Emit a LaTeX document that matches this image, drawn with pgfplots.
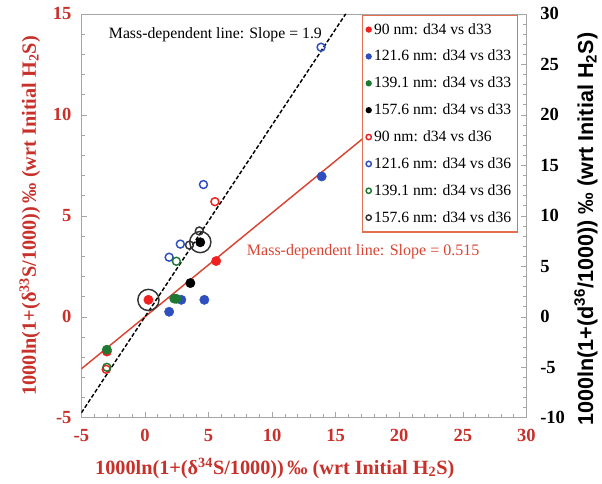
\documentclass[border=0pt]{standalone}
\usepackage{fontspec}
\setmainfont{Liberation Serif}
\newfontfamily\sansf{Liberation Sans}
\usepackage{pgfplots}
\pgfplotsset{compat=1.18}

\definecolor{labred}{HTML}{C8302A}
\definecolor{ptred}{HTML}{F02020}
\definecolor{ptblue}{HTML}{2F4FBF}
\definecolor{ptgreen}{HTML}{1E7A32}
\definecolor{linered}{HTML}{D94433}
\definecolor{legbord}{HTML}{E07050}

\pgfplotsset{
  twin/.style={
    scale only axis, width=336pt, height=305pt,
    xmin=-5, xmax=30,
    minor tick num=4,
    tick align=inside,
    axis line style={gray!70},
    major tick length=4pt, minor tick length=2.5pt,
    every tick/.style={gray!70},
    /pgf/number format/assume math mode=true,
  },
  filled/.style={only marks, mark=*, mark size=3.5pt, mark options={draw=#1, fill=#1}},
  openc/.style={only marks, mark=o, mark size=3.0pt, mark options={draw=#1, line width=1.1pt}},
}

\begin{document}
\begin{tikzpicture}
% left / bottom axis: d34 vs d33
\begin{axis}[
  twin, name=main,
  ymin=-5, ymax=15,
  xtick={-5,0,...,30}, ytick={-5,0,...,15},
  tick pos=left,
  ticklabel style={font=\bfseries\fontsize{14}{16}\selectfont, text=labred},
  xticklabel style={yshift=-5pt},
  yticklabel style={xshift=-4pt},
  label style={font=\bfseries\fontsize{15.3}{18}\selectfont, text=labred},
  xlabel style={at={(axis description cs:0.5,0)}, anchor=center, yshift=-38pt, xshift=-22pt},
  ylabel style={at={(axis description cs:0,0.5)}, anchor=center, yshift=39pt},
  xlabel={1000ln(1+(δ\textsuperscript{34}S/1000))\,‰ (wrt Initial H\textsubscript{2}S)},
  ylabel={1000ln(1+(δ\textsuperscript{33}S/1000))\,‰ (wrt Initial H\textsubscript{2}S)},
]
% mass-dependent line, slope 0.515
\addplot[linered, line width=1.1pt] coordinates {(-5,-2.575) (29,14.935)};

\addplot[filled=ptred] coordinates {(0.27,0.84) (5.6,2.76) (-3.0,-1.72)};
\addplot[filled=ptblue] coordinates {(1.9,0.25) (2.86,0.84) (4.67,0.84) (13.9,6.95)};
\addplot[filled=ptgreen] coordinates {(-3.0,-1.63) (2.47,0.89) (2.3,0.9)};
\addplot[filled=black] coordinates {(3.57,1.67) (4.35,3.69)};

\node[anchor=west, font=\fontsize{11.9}{14}\selectfont] at (axis cs:-3.2,13.95) {Mass-dependent line: Slope = 1.9};
\node[anchor=west, font=\fontsize{12.1}{14}\selectfont, text=linered] at (axis cs:7.65,3.25) {Mass-dependent line: Slope = 0.515};
\end{axis}

% right axis: d34 vs d36
\begin{axis}[
  twin,
  ymin=-10, ymax=30,
  ytick={-10,-5,...,30},
  axis y line*=right,
  axis x line=none,
  ticklabel style={font=\bfseries\fontsize{14}{16}\selectfont, text=black},
  yticklabel style={xshift=7pt},
  ylabel={\sansf 1000ln(1+(d\textsuperscript{36}/1000)) ‰ (wrt Initial H\textsubscript{2}S)},
  ylabel style={font=\bfseries\fontsize{16.3}{18}\selectfont, at={(axis description cs:1,0.5)}, anchor=center, yshift=-45pt, xshift=-10pt},
  legend cell align=left,
  legend style={at={(rel axis cs:0.982,0.998)}, anchor=north east,
    draw=legbord, line width=0.8pt, fill=white,
    font=\fontsize{11.8}{14}\selectfont, row sep=6.6pt,
    inner xsep=3pt, inner ysep=4pt},
  legend image post style={mark size=2pt, line width=0.7pt},
  legend image code/.code={\draw[mark repeat=2,mark phase=2] plot coordinates {(0cm,0cm) (0.1cm,0cm) (0.2cm,0cm)};},
]
% mass-dependent line, slope 1.9
\addplot[black, line width=1.1pt, dash pattern=on 3pt off 1.6pt, forget plot] coordinates {(-5,-9.5) (15.79,30)};

\addlegendimage{filled=ptred}
\addlegendentry{90 nm: d34 vs d33}
\addlegendimage{filled=ptblue}
\addlegendentry{121.6 nm: d34 vs d33}
\addlegendimage{filled=ptgreen}
\addlegendentry{139.1 nm: d34 vs d33}
\addlegendimage{filled=black}
\addlegendentry{157.6 nm: d34 vs d33}

\addplot[openc=ptred] coordinates {(5.5,11.4) (-3.05,-5.2)};
\addlegendentry{90 nm: d34 vs d36}
\addplot[openc=ptblue] coordinates {(13.85,26.7) (4.6,13.1) (2.78,7.2) (1.9,5.9)};
\addlegendentry{121.6 nm: d34 vs d36}
\addplot[openc=ptgreen] coordinates {(2.47,5.5) (-3.0,-5.0)};
\addlegendentry{139.1 nm: d34 vs d36}
\addplot[openc=black!80] coordinates {(3.5,7.1) (4.27,8.5)};
\addlegendentry{157.6 nm: d34 vs d36}
\addplot[only marks, mark=o, mark size=8pt, mark options={draw=black!80, line width=1.1pt}, forget plot] coordinates {(4.35,7.4) (0.27,1.67)};
\end{axis}
% page margins as in the reference
\path ([xshift=-61.5pt,yshift=-50pt]main.south west) rectangle ([xshift=54pt,yshift=10.5pt]main.north east);
\end{tikzpicture}
\end{document}
